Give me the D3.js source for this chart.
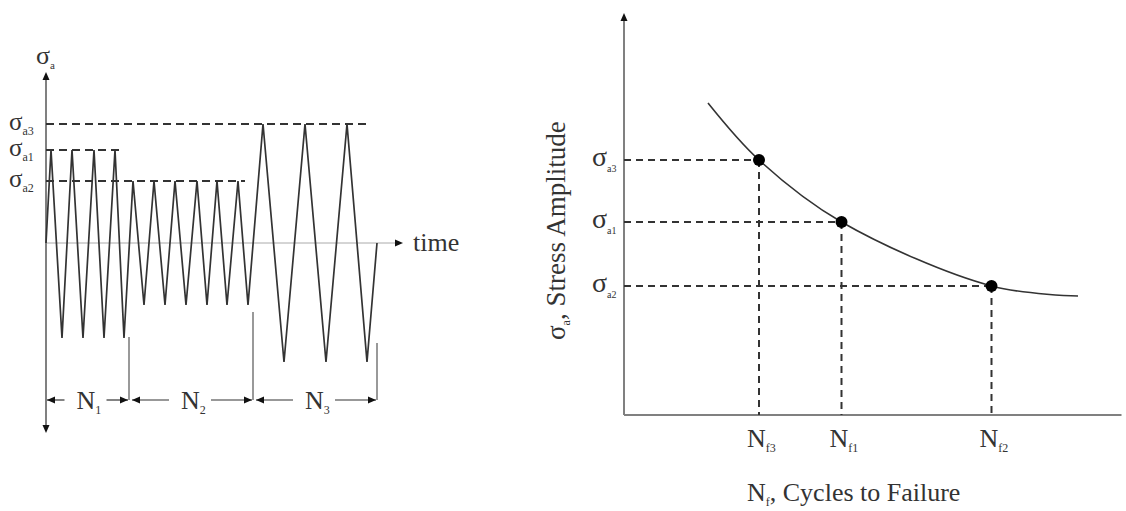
<!DOCTYPE html>
<html>
<head>
<meta charset="utf-8">
<script src="https://cdn.jsdelivr.net/npm/d3@7"></script>
<style>
  body { margin: 0; background: #fff; }
  text { font-family: "Liberation Serif", "Times New Roman", serif; fill: #333; }
</style>
</head>
<body>
<svg id="chart" width="1126" height="511"></svg>
<script>
// left panel: stress history (time units, stress units)
var waveTime   = [0, 5, 16, 26, 37, 48, 58, 69, 78, 87, 98, 108, 119, 129, 140, 151, 161, 171, 181, 192, 202, 217, 238, 259, 280, 301, 321, 331];
var waveStress = [0, 93, -95, 93, -95, 93, -95, 93, -95, 62, -62, 62, -62, 62, -62, 62, -62, 62, -62, 62, -62, 119, -119, 119, -119, 119, -119, 0];
var levelNames  = ["a3", "a1", "a2"];
var levelValues = [119, 93, 62];
var levelEnds   = [321, 74, 199];
var blockNames  = ["1", "2", "3"];
var blockStarts = [0, 83, 207];
var blockEnds   = [83, 207, 331];
var blockTicks  = [-94, -69, -100];

// right panel: S-N curve (arbitrary units)
var lifeNames  = ["f3", "f1", "f2"];
var lifeValues = [2.7, 4.35, 7.35];
var ampValues  = [6.375, 4.825, 3.225];
var curveLife  = [1.68, 2.7, 4.35, 7.35, 9.08];
var curveAmp   = [7.8, 6.375, 4.825, 3.225, 2.975];

var svg = d3.select("#chart");
var ink = "#333", axisGray = "#808080";

function arrow(g, x, y, dir) {
  var s = 5;
  var pts = {
    up:    [[x, y], [x - s * 0.7, y + s * 1.6], [x + s * 0.7, y + s * 1.6]],
    down:  [[x, y], [x - s * 0.7, y - s * 1.6], [x + s * 0.7, y - s * 1.6]],
    left:  [[x, y], [x + s * 1.6, y - s * 0.7], [x + s * 1.6, y + s * 0.7]],
    right: [[x, y], [x - s * 1.6, y - s * 0.7], [x - s * 1.6, y + s * 0.7]]
  }[dir];
  g.append("path").attr("d", "M" + pts.join("L") + "Z").attr("fill", "#111");
}

function sub(g, x, y, main, subText, size, subSize, anchor) {
  var t = g.append("text").attr("x", x).attr("y", y)
    .attr("font-size", size).attr("text-anchor", anchor || "start");
  t.append("tspan").text(main);
  t.append("tspan").attr("font-size", subSize).attr("dy", size * 0.2).text(subText);
  return t;
}

// ---------- left panel ----------
var xL = d3.scaleLinear().domain([0, 331]).range([46, 377]);
var yL = d3.scaleLinear().domain([-200, 200]).range([443, 43]);
var left = svg.append("g");

// time axis
left.append("line").attr("x1", xL(0)).attr("x2", xL(350)).attr("y1", yL(0)).attr("y2", yL(0))
  .attr("stroke", "#aaa").attr("stroke-width", 1);
arrow(left, xL(357), yL(0), "right");
left.append("text").attr("x", xL(367)).attr("y", yL(0) + 8).attr("font-size", 26).text("time");

// stress axis
left.append("line").attr("x1", xL(0)).attr("x2", xL(0)).attr("y1", yL(166)).attr("y2", yL(-185))
  .attr("stroke", axisGray).attr("stroke-width", 2);
arrow(left, xL(0), yL(171), "up");
arrow(left, xL(0), yL(-190), "down");
sub(left, xL(0) - 10, yL(185) + 6, "σ", "a", 26, 11);

// amplitude levels
levelNames.forEach(function(n, i) {
  left.append("line").attr("x1", xL(0)).attr("x2", xL(levelEnds[i]))
    .attr("y1", yL(levelValues[i])).attr("y2", yL(levelValues[i]))
    .attr("stroke", ink).attr("stroke-width", 2).attr("stroke-dasharray", "8,5");
  sub(left, 9, yL(levelValues[i]) + 6, "σ", n, 25, 12);
});

// waveform
var wave = d3.line().x(function(d, i) { return xL(waveTime[i]); })
  .y(function(d) { return yL(d); });
left.append("path").datum(waveStress).attr("d", wave)
  .attr("fill", "none").attr("stroke", ink).attr("stroke-width", 1.7);

// block markers
var dimY = yL(-157);
blockEnds.forEach(function(e, i) {
  left.append("line").attr("x1", xL(e)).attr("x2", xL(e)).attr("y1", yL(blockTicks[i])).attr("y2", dimY)
    .attr("stroke", "#999").attr("stroke-width", 2);
});
blockNames.forEach(function(n, i) {
  var a = xL(blockStarts[i]) + (i ? 3 : 1), b = xL(blockEnds[i]) - 1;
  var mid = (a + b) / 2;
  left.append("line").attr("x1", a).attr("x2", mid - 23).attr("y1", dimY).attr("y2", dimY)
    .attr("stroke", ink).attr("stroke-width", 1.2);
  left.append("line").attr("x1", mid + 19).attr("x2", b).attr("y1", dimY).attr("y2", dimY)
    .attr("stroke", ink).attr("stroke-width", 1.2);
  arrow(left, a, dimY, "left");
  arrow(left, b, dimY, "right");
  sub(left, mid - 11, dimY + 9, "N", n, 26, 12);
});

// ---------- right panel ----------
var xR = d3.scaleLinear().domain([0, 10]).range([624, 1124]);
var yR = d3.scaleLinear().domain([0, 10]).range([415, 15]);
var right = svg.append("g");

right.append("line").attr("x1", xR(0)).attr("x2", xR(0)).attr("y1", yR(0)).attr("y2", yR(9.9))
  .attr("stroke", axisGray).attr("stroke-width", 2);
arrow(right, xR(0), yR(10.05), "up");
right.append("line").attr("x1", xR(0)).attr("x2", xR(9.95)).attr("y1", yR(0)).attr("y2", yR(0))
  .attr("stroke", axisGray).attr("stroke-width", 2);

lifeValues.forEach(function(v, i) {
  right.append("line").attr("x1", xR(0)).attr("x2", xR(v)).attr("y1", yR(ampValues[i])).attr("y2", yR(ampValues[i]))
    .attr("stroke", ink).attr("stroke-width", 2).attr("stroke-dasharray", "7,5");
  right.append("line").attr("x1", xR(v)).attr("x2", xR(v)).attr("y1", yR(ampValues[i])).attr("y2", yR(0))
    .attr("stroke", ink).attr("stroke-width", 2).attr("stroke-dasharray", "7,5");
  sub(right, xR(0) - 32, yR(ampValues[i]) + 6, "σ", "a" + lifeNames[i].slice(1), 28, 10);
  sub(right, xR(v) - 12, yR(0) + 32, "N", lifeNames[i], 26, 12);
});

var curve = d3.line().curve(d3.curveCatmullRom)
  .x(function(d, i) { return xR(curveLife[i]); })
  .y(function(d) { return yR(d); });
right.append("path").datum(curveAmp).attr("d", curve)
  .attr("fill", "none").attr("stroke", ink).attr("stroke-width", 1.6);

right.selectAll("circle.pt").data(lifeValues).enter().append("circle")
  .attr("cx", function(d) { return xR(d); })
  .attr("cy", function(d, i) { return yR(ampValues[i]); })
  .attr("r", 6).attr("fill", "#000");

// axis titles
var xt = right.append("text").attr("x", 747).attr("y", 501).attr("font-size", 26);
xt.append("tspan").text("N");
xt.append("tspan").attr("font-size", 12).attr("dy", 5).text("f");
xt.append("tspan").attr("dy", -5).text(", Cycles to Failure");

var yt = right.append("text").attr("transform", "translate(565,340) rotate(-90)").attr("font-size", 27);
yt.append("tspan").text("σ");
yt.append("tspan").attr("font-size", 12).attr("dy", 5).text("a");
yt.append("tspan").attr("dy", -5).text(", Stress Amplitude");
</script>
</body>
</html>
